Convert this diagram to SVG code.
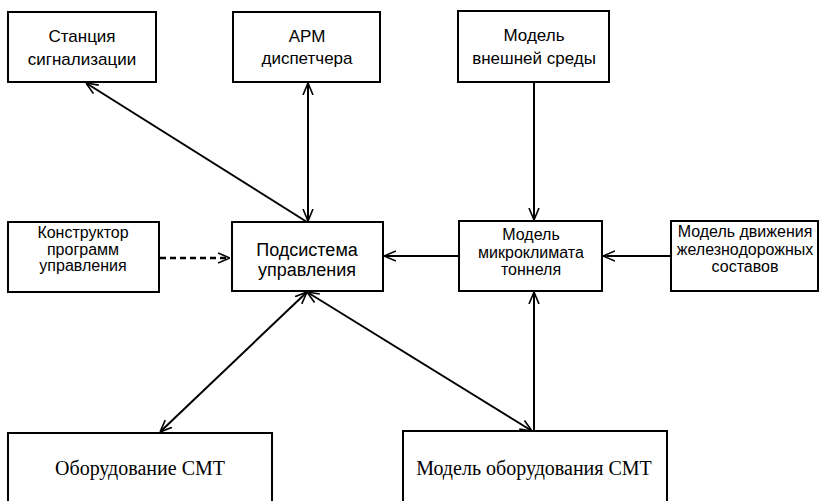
<svg xmlns="http://www.w3.org/2000/svg" width="822" height="501" viewBox="0 0 822 501">
<style>
.box{fill:#fff;stroke:#000;stroke-width:2}
.t{font-family:"Liberation Sans",Arial,sans-serif;fill:#000;text-anchor:middle}
.s{font-family:"Liberation Serif","Times New Roman",serif;fill:#000;text-anchor:middle}
.c{fill:none;stroke:#000;stroke-width:2}
.d{fill:none;stroke:#000;stroke-width:2.5;stroke-dasharray:6 4}
</style>
<defs>
<marker id="ah" viewBox="0 0 12 12" refX="12" refY="6" markerWidth="12" markerHeight="12" markerUnits="userSpaceOnUse" orient="auto-start-reverse">
<path d="M0,1 L12,6 L0,11" fill="none" stroke="#000" stroke-width="1.6"/>
</marker>
</defs>
<rect width="822" height="501" fill="#fff"/>
<g id="connectors">
<line class="c" x1="307" y1="222" x2="86" y2="83" marker-end="url(#ah)"/>
<line class="c" x1="308" y1="83" x2="308" y2="221" marker-start="url(#ah)" marker-end="url(#ah)"/>
<line class="c" x1="534" y1="83" x2="534" y2="220" marker-end="url(#ah)"/>
<line class="c" x1="458" y1="256" x2="384" y2="256" marker-end="url(#ah)"/>
<line class="c" x1="670" y1="256" x2="603" y2="256" marker-end="url(#ah)"/>
<line class="d" x1="160" y1="258" x2="230" y2="258" marker-end="url(#ah)"/>
<line class="c" x1="307" y1="292" x2="160" y2="432" marker-start="url(#ah)" marker-end="url(#ah)"/>
<line class="c" x1="307" y1="292" x2="532" y2="431" marker-start="url(#ah)" marker-end="url(#ah)"/>
<line class="c" x1="534" y1="292" x2="534" y2="431" marker-start="url(#ah)"/>
</g>
<g id="n-station">
<rect class="box" x="8" y="12" width="148" height="70"/>
<text class="t" font-size="17" x="82" y="42">Станция</text>
<text class="t" font-size="17" x="82" y="65">сигнализации</text>
</g>
<g id="n-arm">
<rect class="box" x="233" y="12" width="147" height="70"/>
<text class="t" font-size="17" x="307" y="42">АРМ</text>
<text class="t" font-size="17" x="307" y="64">диспетчера</text>
</g>
<g id="n-env">
<rect class="box" x="458" y="11" width="151" height="71"/>
<text class="t" font-size="17" x="534" y="41">Модель</text>
<text class="t" font-size="17" x="534" y="64">внешней среды</text>
</g>
<g id="n-constructor">
<rect class="box" x="8" y="222" width="151" height="70"/>
<text class="t" font-size="16" x="83" y="238">Конструктор</text>
<text class="t" font-size="16" x="83" y="255">программ</text>
<text class="t" font-size="16" x="83" y="271">управления</text>
</g>
<g id="n-control">
<rect class="box" x="232" y="222" width="151" height="69"/>
<text class="t" font-size="18" x="307" y="256">Подсистема</text>
<text class="t" font-size="18" x="307" y="276">управления</text>
</g>
<g id="n-climate">
<rect class="box" x="459" y="221" width="143" height="70"/>
<text class="t" font-size="16" x="531" y="240">Модель</text>
<text class="t" font-size="16" x="531" y="258">микроклимата</text>
<text class="t" font-size="16" x="531" y="275">тоннеля</text>
</g>
<g id="n-trains">
<rect class="box" x="671" y="221" width="147" height="70"/>
<text class="t" font-size="16" x="745" y="237">Модель движения</text>
<text class="t" font-size="16" x="745" y="255">железнодорожных</text>
<text class="t" font-size="16" x="745" y="272">составов</text>
</g>
<g id="n-equipment">
<rect class="box" x="8" y="433" width="264" height="80"/>
<text class="s" font-size="20" x="140" y="475">Оборудование СМТ</text>
</g>
<g id="n-equipment-model">
<rect class="box" x="403" y="431" width="264" height="82"/>
<text class="s" font-size="20" x="534" y="475">Модель оборудования СМТ</text>
</g>
</svg>
